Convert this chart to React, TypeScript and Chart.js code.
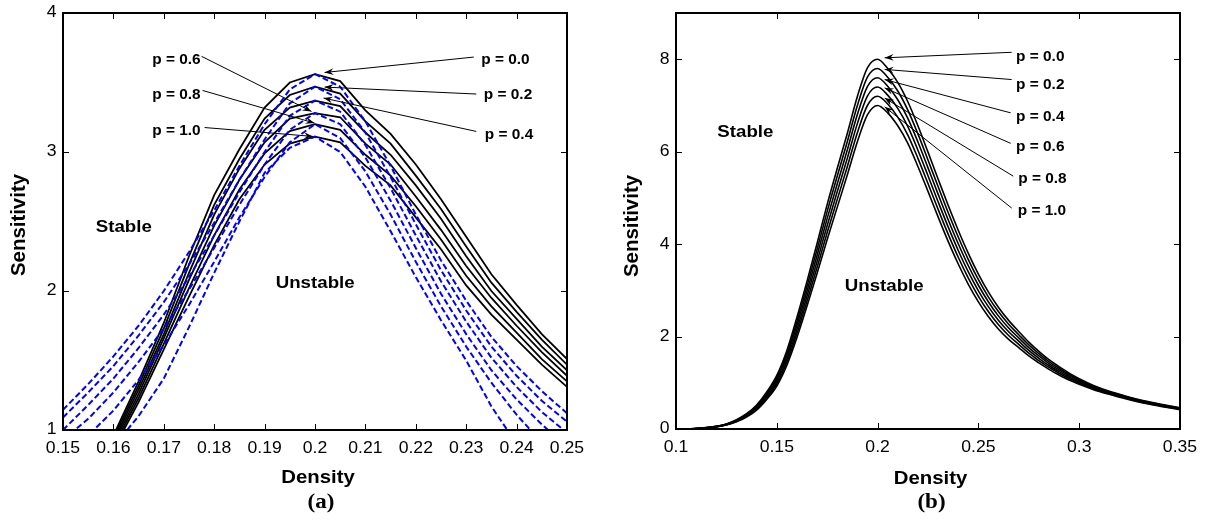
import { useEffect, useRef } from 'react';
import { Chart, registerables } from 'chart.js';

Chart.register(...registerables);

// ---------- Panel (a) data ----------
const densityA = [0.15, 0.155, 0.16, 0.165, 0.17, 0.175, 0.18, 0.185, 0.19, 0.195, 0.2, 0.205, 0.21, 0.215, 0.22, 0.225, 0.23, 0.235, 0.24, 0.245, 0.25];

const blackP00 = [0.30, 0.62, 0.96, 1.35, 1.77, 2.25, 2.69, 3.02, 3.32, 3.50, 3.56, 3.51, 3.30, 3.13, 2.91, 2.66, 2.39, 2.12, 1.90, 1.69, 1.51];
const blackP02 = [0.29, 0.61, 0.94, 1.32, 1.73, 2.19, 2.62, 2.95, 3.24, 3.41, 3.47, 3.42, 3.22, 3.06, 2.83, 2.59, 2.32, 2.06, 1.85, 1.65, 1.47];
const blackP04 = [0.28, 0.60, 0.92, 1.29, 1.69, 2.13, 2.55, 2.88, 3.16, 3.32, 3.37, 3.33, 3.14, 2.98, 2.76, 2.52, 2.25, 2.00, 1.80, 1.60, 1.43];
const blackP06 = [0.27, 0.58, 0.90, 1.26, 1.66, 2.08, 2.47, 2.80, 3.07, 3.24, 3.28, 3.25, 3.06, 2.91, 2.68, 2.44, 2.18, 1.95, 1.75, 1.56, 1.39];
const blackP08 = [0.26, 0.57, 0.88, 1.23, 1.62, 2.02, 2.40, 2.73, 2.99, 3.15, 3.20, 3.16, 2.98, 2.83, 2.61, 2.37, 2.11, 1.89, 1.70, 1.51, 1.35];
const blackP10 = [0.25, 0.55, 0.86, 1.20, 1.58, 1.96, 2.33, 2.66, 2.91, 3.06, 3.11, 3.07, 2.90, 2.76, 2.53, 2.30, 2.04, 1.83, 1.65, 1.47, 1.31];

const blueP00 = [1.145, 1.33, 1.53, 1.75, 2.00, 2.28, 2.58, 2.90, 3.20, 3.45, 3.56, 3.47, 3.22, 2.90, 2.55, 2.22, 1.93, 1.67, 1.46, 1.28, 1.12];
const blueP02 = [1.09, 1.27, 1.46, 1.68, 1.92, 2.19, 2.49, 2.80, 3.09, 3.35, 3.47, 3.38, 3.14, 2.82, 2.48, 2.15, 1.86, 1.60, 1.39, 1.21, 1.06];
const blueP04 = [1.00, 1.18, 1.37, 1.59, 1.83, 2.10, 2.40, 2.71, 3.00, 3.26, 3.37, 3.29, 3.05, 2.74, 2.40, 2.07, 1.78, 1.52, 1.31, 1.13, 0.98];
const blueP06 = [0.93, 1.08, 1.27, 1.49, 1.73, 2.01, 2.31, 2.62, 2.91, 3.16, 3.28, 3.20, 2.96, 2.65, 2.31, 1.98, 1.69, 1.43, 1.22, 1.04, 0.88];
const blueP08 = [0.80, 0.96, 1.14, 1.36, 1.61, 1.90, 2.21, 2.53, 2.82, 3.07, 3.20, 3.10, 2.86, 2.55, 2.21, 1.89, 1.60, 1.34, 1.11, 0.91, 0.73];
const blueP10 = [0.55, 0.70, 0.88, 1.10, 1.37, 1.74, 2.13, 2.50, 2.85, 3.03, 3.11, 3.00, 2.75, 2.43, 2.10, 1.79, 1.50, 1.17, 0.90, 0.70, 0.52];

// ---------- Panel (b) data ----------
const densityB = [0.10, 0.11, 0.12, 0.125, 0.13, 0.135, 0.14, 0.145, 0.15, 0.155, 0.16, 0.165, 0.17, 0.175, 0.18, 0.185, 0.19, 0.195, 0.2, 0.205, 0.21, 0.215, 0.22, 0.225, 0.23, 0.235, 0.24, 0.245, 0.25, 0.255, 0.26, 0.265, 0.27, 0.275, 0.28, 0.285, 0.29, 0.295, 0.30, 0.31, 0.32, 0.33, 0.34, 0.35];

const sensBP00 = [0, 0.01, 0.06, 0.11, 0.20, 0.33, 0.52, 0.80, 1.16, 1.70, 2.42, 3.20, 4.02, 4.86, 5.64, 6.40, 7.20, 7.82, 8.00, 7.80, 7.50, 7.08, 6.56, 5.99, 5.41, 4.84, 4.30, 3.80, 3.35, 2.96, 2.63, 2.35, 2.11, 1.88, 1.68, 1.50, 1.35, 1.21, 1.09, 0.89, 0.75, 0.63, 0.54, 0.46];
const sensBP02 = [0, 0.01, 0.057, 0.105, 0.191, 0.316, 0.498, 0.768, 1.114, 1.636, 2.332, 3.092, 3.89, 4.708, 5.472, 6.22, 7.004, 7.616, 7.8, 7.608, 7.312, 6.90, 6.384, 5.82, 5.246, 4.684, 4.154, 3.666, 3.23, 2.854, 2.536, 2.268, 2.04, 1.82, 1.63, 1.458, 1.314, 1.18, 1.066, 0.874, 0.738, 0.62, 0.531, 0.452];
const sensBP04 = [0, 0.01, 0.054, 0.10, 0.182, 0.302, 0.476, 0.736, 1.068, 1.572, 2.244, 2.984, 3.76, 4.556, 5.304, 6.04, 6.808, 7.412, 7.6, 7.416, 7.124, 6.72, 6.208, 5.65, 5.082, 4.528, 4.008, 3.532, 3.11, 2.748, 2.442, 2.186, 1.97, 1.76, 1.58, 1.416, 1.278, 1.15, 1.042, 0.858, 0.726, 0.61, 0.522, 0.444];
const sensBP06 = [0, 0.01, 0.051, 0.095, 0.173, 0.288, 0.454, 0.704, 1.022, 1.508, 2.156, 2.876, 3.63, 4.404, 5.136, 5.86, 6.612, 7.208, 7.4, 7.224, 6.936, 6.54, 6.032, 5.48, 4.918, 4.372, 3.862, 3.398, 2.99, 2.642, 2.348, 2.104, 1.90, 1.70, 1.53, 1.374, 1.242, 1.12, 1.018, 0.842, 0.714, 0.60, 0.513, 0.436];
const sensBP08 = [0, 0.01, 0.048, 0.09, 0.164, 0.274, 0.432, 0.672, 0.976, 1.444, 2.068, 2.768, 3.50, 4.252, 4.968, 5.68, 6.416, 7.004, 7.2, 7.032, 6.748, 6.36, 5.856, 5.31, 4.754, 4.216, 3.716, 3.264, 2.87, 2.536, 2.254, 2.022, 1.83, 1.64, 1.48, 1.332, 1.206, 1.09, 0.994, 0.826, 0.702, 0.59, 0.504, 0.428];
const sensBP10 = [0, 0.01, 0.045, 0.085, 0.155, 0.26, 0.41, 0.64, 0.93, 1.38, 1.98, 2.66, 3.37, 4.10, 4.80, 5.50, 6.22, 6.80, 7.00, 6.84, 6.56, 6.18, 5.68, 5.14, 4.59, 4.06, 3.57, 3.13, 2.75, 2.43, 2.16, 1.94, 1.76, 1.58, 1.43, 1.29, 1.17, 1.06, 0.97, 0.81, 0.69, 0.58, 0.495, 0.42];

// ---------- labels & ticks ----------
const pLabels = ['p = 0.0', 'p = 0.2', 'p = 0.4', 'p = 0.6', 'p = 0.8', 'p = 1.0'];
const xTicksA = [0.15, 0.16, 0.17, 0.18, 0.19, 0.2, 0.21, 0.22, 0.23, 0.24, 0.25];
const yTicksA = [1, 2, 3, 4];
const xTicksB = [0.1, 0.15, 0.2, 0.25, 0.3, 0.35];
const yTicksB = [0, 2, 4, 6, 8];
const xTitle = 'Density';
const yTitle = 'Sensitivity';
const regionLabels = ['Stable', 'Unstable'];

const SANS = '"Liberation Sans", Arial, Helvetica, sans-serif';
const SERIF = '"Liberation Serif", "Times New Roman", Times, serif';
const STRETCH = 1.1;

// annotation anchors (data coordinates): label (lx, ly), leader start (sx, sy), arrow tip (tx, ty)
const annA = [
  { lx: 0.2330, ly: 3.664, sx: 0.2315, sy: 3.683, tx: 0.2019, ty: 3.572 },
  { lx: 0.2335, ly: 3.412, sx: 0.2320, sy: 3.417, tx: 0.2019, ty: 3.467 },
  { lx: 0.2337, ly: 3.124, sx: 0.2320, sy: 3.148, tx: 0.2017, ty: 3.388 },
  { lx: 0.1677, ly: 3.659, sx: 0.1775, sy: 3.688, tx: 0.1993, ty: 3.292 },
  { lx: 0.1677, ly: 3.412, sx: 0.1777, sy: 3.443, tx: 0.1999, ty: 3.208 },
  { lx: 0.1677, ly: 3.148, sx: 0.1781, sy: 3.176, tx: 0.1996, ty: 3.112 },
];
const annB = [
  { lx: 0.2687, ly: 8.04, sx: 0.2665, sy: 8.15, tx: 0.2035, ty: 8.03 },
  { lx: 0.2687, ly: 7.45, sx: 0.2665, sy: 7.56, tx: 0.2035, ty: 7.78 },
  { lx: 0.2687, ly: 6.75, sx: 0.2660, sy: 6.84, tx: 0.2035, ty: 7.56 },
  { lx: 0.2687, ly: 6.10, sx: 0.2660, sy: 6.18, tx: 0.2035, ty: 7.38 },
  { lx: 0.2698, ly: 5.40, sx: 0.2673, sy: 5.47, tx: 0.2035, ty: 7.16 },
  { lx: 0.2695, ly: 4.71, sx: 0.2665, sy: 4.78, tx: 0.2035, ty: 6.97 },
];
const regionA = [{ x: 0.1565, y: 2.455 }, { x: 0.1922, y: 2.058 }];
const regionB = [{ x: 0.1205, y: 6.42 }, { x: 0.1837, y: 3.09 }];

const fmt = (v: any) => String(parseFloat(Number(v).toFixed(3)));

function series(xs: number[], ys: number[], color: string, width: number, dash: number[], smooth: boolean) {
  return {
    data: xs.map((x, i) => ({ x, y: ys[i] })),
    borderColor: color,
    backgroundColor: color,
    borderWidth: width,
    borderDash: dash,
    pointRadius: 0,
    fill: false,
    tension: 0,
    cubicInterpolationMode: smooth ? 'monotone' : 'default',
    clip: 0,
  };
}

function scalesCfg(xmin: number, xmax: number, ymin: number, ymax: number, xt: number[], yt: number[], yW: number, xH: number) {
  return {
    x: {
      type: 'linear', min: xmin, max: xmax,
      afterBuildTicks: (s: any) => { s.ticks = xt.map((v) => ({ value: v })); },
      afterFit: (s: any) => { s.height = xH; },
      grid: { display: false, drawTicks: false },
      border: { display: false },
      ticks: { display: false, callback: fmt },
    },
    y: {
      type: 'linear', min: ymin, max: ymax,
      afterBuildTicks: (s: any) => { s.ticks = yt.map((v) => ({ value: v })); },
      afterFit: (s: any) => { s.width = yW; },
      grid: { display: false, drawTicks: false },
      border: { display: false },
      ticks: { display: false, callback: fmt },
    },
  };
}

function sText(ctx: CanvasRenderingContext2D, text: string, x: number, y: number, align: CanvasTextAlign, sx: number) {
  ctx.save();
  ctx.translate(x, y);
  ctx.scale(sx, 1);
  ctx.textAlign = align;
  ctx.fillText(text, 0, 0);
  ctx.restore();
}

function arrow(ctx: CanvasRenderingContext2D, sx: number, sy: number, tx: number, ty: number) {
  ctx.beginPath();
  ctx.moveTo(sx, sy);
  ctx.lineTo(tx, ty);
  ctx.lineWidth = 1;
  ctx.stroke();
  const a = Math.atan2(ty - sy, tx - sx);
  const dx = Math.cos(a), dy = Math.sin(a);
  const L = 9, w = 3.4;
  ctx.beginPath();
  ctx.moveTo(tx, ty);
  ctx.lineTo(tx - L * dx - w * dy, ty - L * dy + w * dx);
  ctx.lineTo(tx - 0.65 * L * dx, ty - 0.65 * L * dy);
  ctx.lineTo(tx - L * dx + w * dy, ty - L * dy - w * dx);
  ctx.closePath();
  ctx.fill();
}

function decor(cfg: any) {
  return {
    id: 'decor',
    afterDraw(chart: any) {
      const { ctx, chartArea: ca, scales } = chart;
      const xs = scales.x, ys = scales.y;
      ctx.save();
      ctx.strokeStyle = '#000';
      ctx.fillStyle = '#000';
      // inward ticks on all four sides
      ctx.lineWidth = 1;
      ctx.beginPath();
      for (const v of cfg.xt) {
        const px = Math.round(xs.getPixelForValue(v)) + 0.5;
        ctx.moveTo(px, ca.bottom); ctx.lineTo(px, ca.bottom - 6);
        ctx.moveTo(px, ca.top); ctx.lineTo(px, ca.top + 6);
      }
      for (const v of cfg.yt) {
        const py = Math.round(ys.getPixelForValue(v)) + 0.5;
        ctx.moveTo(ca.left, py); ctx.lineTo(ca.left + 6, py);
        ctx.moveTo(ca.right, py); ctx.lineTo(ca.right - 6, py);
      }
      ctx.stroke();
      // box
      ctx.lineWidth = 2;
      ctx.strokeRect(ca.left, ca.top, ca.right - ca.left, ca.bottom - ca.top);
      // tick labels
      ctx.font = `16px ${SANS}`;
      ctx.textBaseline = 'middle';
      for (const v of cfg.xt) sText(ctx, fmt(v), xs.getPixelForValue(v), ca.bottom + 18.5, 'center', STRETCH);
      for (const v of cfg.yt) sText(ctx, fmt(v), ca.left - 6.5, ys.getPixelForValue(v), 'right', STRETCH);
      // p annotations
      ctx.font = `bold 14px ${SANS}`;
      cfg.ann.forEach((a: any, i: number) => {
        arrow(ctx, xs.getPixelForValue(a.sx), ys.getPixelForValue(a.sy), xs.getPixelForValue(a.tx), ys.getPixelForValue(a.ty));
        sText(ctx, pLabels[i], xs.getPixelForValue(a.lx), ys.getPixelForValue(a.ly), 'left', STRETCH);
      });
      // region labels
      ctx.font = `bold 17px ${SANS}`;
      cfg.region.forEach((r: any, i: number) => {
        sText(ctx, regionLabels[i], xs.getPixelForValue(r.x), ys.getPixelForValue(r.y), 'left', STRETCH);
      });
      // axis titles
      ctx.font = `bold 18.5px ${SANS}`;
      sText(ctx, xTitle, cfg.xTitlePos[0], cfg.xTitlePos[1], 'center', STRETCH);
      ctx.save();
      ctx.translate(cfg.yTitlePos[0], cfg.yTitlePos[1]);
      ctx.rotate(-Math.PI / 2);
      ctx.font = `bold 20px ${SANS}`;
      ctx.scale(1.02, 1.05);
      ctx.textAlign = 'center';
      ctx.fillText(yTitle, 0, 0);
      ctx.restore();
      // panel tag
      ctx.font = `bold 20px ${SERIF}`;
      sText(ctx, cfg.tag, cfg.tagPos[0], cfg.tagPos[1], 'center', 1.15);
      ctx.restore();
    },
  };
}

function baseOptions(scales: any, padRight: number) {
  return {
    responsive: false,
    animation: false,
    events: [],
    layout: { padding: { left: 0, right: padRight, top: 13, bottom: 0 } },
    plugins: { legend: { display: false }, tooltip: { enabled: false }, title: { display: false } },
    scales,
  };
}

export default function App() {
  const refA = useRef<HTMLCanvasElement>(null);
  const refB = useRef<HTMLCanvasElement>(null);

  useEffect(() => {
    const blue = '#0000ff';
    const dash = [6, 3];
    const dsA = [
      series(densityA, blueP00, blue, 2, dash, false),
      series(densityA, blueP02, blue, 2, dash, false),
      series(densityA, blueP04, blue, 2, dash, false),
      series(densityA, blueP06, blue, 2, dash, false),
      series(densityA, blueP08, blue, 2, dash, false),
      series(densityA, blueP10, blue, 2, dash, false),
      series(densityA, blackP00, '#000', 1.8, [], false),
      series(densityA, blackP02, '#000', 1.8, [], false),
      series(densityA, blackP04, '#000', 1.8, [], false),
      series(densityA, blackP06, '#000', 1.8, [], false),
      series(densityA, blackP08, '#000', 1.8, [], false),
      series(densityA, blackP10, '#000', 1.8, [], false),
    ];
    const dsB = [sensBP00, sensBP02, sensBP04, sensBP06, sensBP08, sensBP10].map((s) => series(densityB, s, '#000', 1.6, [], true));

    const chartA = new Chart(refA.current as HTMLCanvasElement, {
      type: 'line',
      data: { datasets: dsA as any },
      options: baseOptions(scalesCfg(0.15, 0.25, 1, 4, xTicksA, yTicksA, 63, 97), 33) as any,
      plugins: [decor({ xt: xTicksA, yt: yTicksA, ann: annA, region: regionA, xTitlePos: [318, 478], yTitlePos: [19, 225], tag: '(a)', tagPos: [321, 503] })],
    });
    const chartB = new Chart(refB.current as HTMLCanvasElement, {
      type: 'line',
      data: { datasets: dsB as any },
      options: baseOptions(scalesCfg(0.1, 0.35, 0, 9, xTicksB, yTicksB, 76, 98), 31) as any,
      plugins: [decor({ xt: xTicksB, yt: yTicksB, ann: annB, region: regionB, xTitlePos: [330.5, 479], yTitlePos: [32.5, 226], tag: '(b)', tagPos: [331.5, 503] })],
    });
    return () => { chartA.destroy(); chartB.destroy(); };
  }, []);

  return (
    <div style={{ position: 'absolute', left: 0, top: 0, width: 1211, height: 527, background: '#fff' }}>
      <canvas ref={refA} width={600} height={527} style={{ position: 'absolute', left: 0, top: 0 }} />
      <canvas ref={refB} width={611} height={527} style={{ position: 'absolute', left: 600, top: 0 }} />
    </div>
  );
}
